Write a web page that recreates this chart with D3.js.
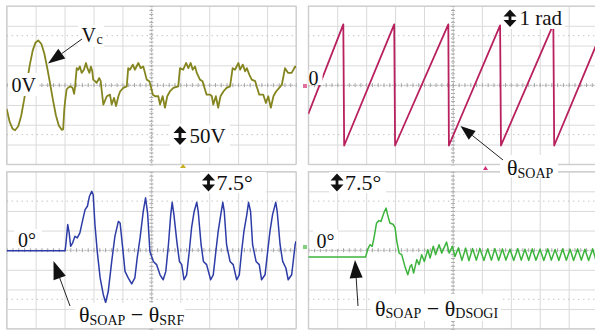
<!DOCTYPE html>
<html><head><meta charset="utf-8">
<script src="https://cdn.jsdelivr.net/npm/d3@7"></script>
<style>html,body{margin:0;padding:0;background:#fff;}svg{display:block;}</style>
</head><body>
<script>
// ---- data (time in ms, 10 ms per division) ----
const timeTicks = d3.range(0, 101, 10);
const vcTrace = [[0,-60],[1,-92],[2,-110],[2.9,-114],[4,-104],[5,-78],[6,-38],[7,8],[8,52],[9,88],[10,108],[10.9,113],[12,104],[13,80],[14,44],[15,4],[16,-38],[17,-76],[18,-102],[19,-113],[19.5,-112],[19.9,-62],[20.2,-40],[20.7,-11],[21.3,-6],[22.1,-3],[22.8,-7],[23.3,-22],[23.6,-6],[24.2,43],[24.7,39],[25.3,47],[25.9,31],[26.7,39],[27.4,56],[27.9,43],[28.6,31],[29.1,47],[29.6,35],[29.9,14],[31.1,6],[32.0,18],[32.5,10],[32.8,-11],[33.4,-49],[34.6,-28],[35.7,-24],[36.3,-49],[37.1,-32],[37.8,-53],[38.6,-28],[39.2,-16],[40.3,-7],[41.5,-3],[42.0,43],[42.6,39],[43.6,52],[44.3,39],[45.5,56],[46.3,43],[47.2,47],[47.8,31],[48.4,14],[49.3,10],[49.8,-3],[50.5,-24],[51.3,-28],[52.4,-28],[53.0,-49],[53.9,-28],[54.7,-57],[55.5,-28],[56.4,-16],[57.6,-7],[59.3,-3],[59.9,43],[61.0,39],[62.0,56],[62.8,43],[63.6,56],[64.3,39],[65.1,47],[65.7,31],[66.8,14],[67.7,10],[68.2,-3],[69.1,-24],[70.3,-24],[70.9,-28],[71.4,-49],[72.3,-28],[73.1,-57],[73.9,-28],[74.9,-16],[76.0,-7],[77.2,-3],[78.1,43],[78.9,39],[80.1,56],[80.7,39],[81.6,52],[82.4,35],[83.0,43],[83.9,26],[84.7,14],[85.9,10],[86.4,-3],[87.3,-24],[88.7,-24],[89.6,-45],[90.4,-28],[91.3,-57],[92.2,-28],[93.1,-16],[94.2,-7],[95.1,1],[96.2,43],[97.3,31],[98.5,31],[99.7,47],[100,44]];
const thetaSoap = [[0,-1.46],[12.1,3.07],[12.4,-3.05],[29.7,3.07],[30.0,-3.05],[48.4,3.07],[48.6,-3.05],[66.3,3.02],[66.6,-3.05],[84.7,3.07],[85.0,-3.05],[100,2.2]];
const errSrf = [[0,-0.2],[20.2,-0.2],[20.5,2.8],[21.1,9.8],[21.6,6.6],[22.1,1.5],[22.8,2.8],[23.6,5.3],[24.4,4.7],[25.3,6.6],[26.3,11.7],[27.1,15.5],[27.9,16.8],[28.6,20.6],[29.4,22.5],[29.9,21.2],[30.5,9.8],[31.3,-0.5],[32.3,-10.6],[33.4,-17.0],[34.2,-20.0],[35.1,-15.8],[36.3,-4.3],[37.4,5.3],[38.6,11.0],[39.2,10.4],[40.1,0.8],[40.9,-8.1],[42.0,-10.6],[43.2,-12.9],[44.3,-10.6],[45.1,-3.0],[46.1,4.7],[47.2,14.8],[48.0,20.0],[48.7,14.2],[49.5,-0.5],[50.7,-4.3],[51.8,-5.5],[53.0,-9.4],[54.1,-11.3],[55.0,-8.1],[55.9,2.1],[56.7,13.6],[57.2,18.3],[57.8,13.6],[58.8,3.4],[59.7,-4.3],[60.5,-5.5],[61.3,-11.3],[62.2,-9.4],[63.1,-0.5],[63.9,8.5],[64.8,14.8],[65.7,18.3],[66.2,14.8],[67.2,2.1],[68.0,-4.3],[69.1,-5.5],[70.5,-11.3],[71.4,-9.4],[72.3,-0.5],[73.1,7.2],[74.0,13.6],[74.7,18.3],[75.2,14.8],[76.0,2.1],[77.2,-4.3],[78.3,-5.5],[79.5,-11.3],[80.4,-9.4],[81.2,-0.5],[82.0,7.2],[83.0,13.6],[83.6,18.3],[84.3,14.8],[85.0,2.1],[86.2,-4.3],[87.3,-5.5],[88.1,-11.3],[89.3,-9.4],[90.2,-0.5],[91.0,7.2],[91.9,13.6],[93.0,18.3],[93.5,14.8],[94.5,2.1],[95.4,-4.3],[96.5,-6.8],[97.3,-11.3],[98.5,-9.4],[99.7,2.1],[100,3.4]];
const errDsogi = [[0,-2.6],[19.8,-2.6],[20.5,0.2],[21.3,2.1],[22.1,1.5],[22.8,5.3],[23.6,10.4],[24.4,11.3],[25.1,11.0],[25.7,12.9],[26.3,14.8],[26.9,16.1],[27.4,13.6],[28.2,10.4],[29.4,9.8],[30.0,8.5],[30.6,3.4],[31.4,-1.1],[32.3,-1.7],[33.4,-6.2],[34.4,-9.4],[35.2,-6.2],[35.7,-5.5],[36.4,-8.7],[37.5,-3.6],[38.3,-5.5],[39.2,-1.7],[40.1,-4.3],[41.3,0.2],[42.1,-3.0],[43.2,1.5],[44.0,-1.7],[45.2,2.1],[46.1,-1.1],[47.8,3.1],[48.7,-1.1],[49.8,1.5],[50.7,-2.4],[51.9,0.9],[53.1,-3.9],[54.4,0.8],[55.5,-4.0],[56.8,0.6],[58.1,-3.8],[59.3,0.7],[60.7,-3.9],[62.0,0.5],[63.3,-3.8],[64.5,0.6],[65.8,-3.9],[67.1,0.5],[68.3,-3.8],[69.7,0.4],[71.0,-3.9],[72.4,0.6],[73.6,-3.8],[74.9,0.4],[76.2,-3.9],[77.4,0.5],[78.7,-3.8],[80.1,0.4],[81.4,-3.9],[82.8,0.5],[84.0,-3.8],[85.3,0.3],[86.6,-3.9],[87.9,0.5],[89.2,-3.8],[90.5,0.4],[91.7,-3.9],[93.1,0.5],[94.4,-3.8],[95.6,0.4],[96.9,-3.9],[98.3,0.5],[99.4,-3.8]];
const vDiv = 50, radDiv = 1, degDiv = 7.5;

// ---- drawing ----
const W = 595, H = 330;
const svg = d3.select("body").append("svg").attr("width", W).attr("height", H);
svg.append("rect").attr("width", W).attr("height", H).attr("fill", "#fff");
const defs = svg.append("defs");
const serif = "Liberation Serif, DejaVu Serif, serif";

function panel(id, x0, y0, w, h, perDiv, data, color, sw) {
  const x = d3.scaleLinear().domain([0, 100]).range([x0, x0 + w]);
  const y = d3.scaleLinear().domain([-4 * perDiv, 4 * perDiv]).range([y0 + h, y0]);
  const g = svg.append("g");
  const yTicks = d3.range(-4, 5).map(k => k * perDiv);
  g.append("g").attr("transform", `translate(0,${y0 + h})`)
    .call(d3.axisBottom(x).tickValues(timeTicks).tickSizeInner(-h).tickSizeOuter(0).tickFormat(""))
    .call(a => a.select(".domain").remove())
    .call(a => a.selectAll("line").attr("stroke", "#dadada"));
  g.append("g").attr("transform", `translate(${x0},0)`)
    .call(d3.axisLeft(y).tickValues(yTicks).tickSizeInner(-w).tickSizeOuter(0).tickFormat(""))
    .call(a => a.select(".domain").remove())
    .call(a => a.selectAll("line").attr("stroke", "#dadada"));
  [-2.5, 2.5].forEach(k => g.append("line").attr("x1", x0).attr("x2", x0 + w)
    .attr("y1", y(k * perDiv)).attr("y2", y(k * perDiv))
    .attr("stroke", "#aaaaaa").attr("stroke-dasharray", "1,4"));
  const yc = y(0), xc = x(50);
  g.append("line").attr("x1", x0).attr("x2", x0 + w).attr("y1", yc).attr("y2", yc)
    .attr("stroke", "#a0a0a0").attr("stroke-dasharray", "1,2");
  g.append("line").attr("x1", xc).attr("x2", xc).attr("y1", y0).attr("y2", y0 + h)
    .attr("stroke", "#a0a0a0").attr("stroke-dasharray", "1,2");
  g.append("g").attr("transform", `translate(0,${yc + 2})`)
    .call(d3.axisBottom(x).tickValues(d3.range(0, 101, 2)).tickSizeInner(-4).tickSizeOuter(0).tickFormat(""))
    .call(a => a.select(".domain").remove())
    .call(a => a.selectAll("line").attr("stroke", "#a8a8a8"));
  g.append("g").attr("transform", `translate(${xc + 2},0)`)
    .call(d3.axisLeft(y).tickValues(d3.range(-4, 4.01, 0.2).map(k => k * perDiv)).tickSizeInner(4).tickSizeOuter(0).tickFormat(""))
    .call(a => a.select(".domain").remove())
    .call(a => a.selectAll("line").attr("stroke", "#a8a8a8"));
  g.append("rect").attr("x", x0).attr("y", y0).attr("width", w).attr("height", h)
    .attr("fill", "none").attr("stroke", "#c8c8c8");
  defs.append("clipPath").attr("id", id).append("rect")
    .attr("x", x0).attr("y", y0).attr("width", w).attr("height", h);
  g.append("path").datum(data).attr("clip-path", `url(#${id})`)
    .attr("fill", "none").attr("stroke", color).attr("stroke-width", sw)
    .attr("stroke-linejoin", "round")
    .attr("d", d3.line().x(d => x(d[0])).y(d => y(d[1])));
  return {x, y, g};
}

const pw = 289.3;
panel("c1", 6.7, 6, pw, 158.3, vDiv, vcTrace, "#85851f", 1.8);
panel("c2", 308.3, 6, pw, 158.3, radDiv, thetaSoap, "#b8205e", 1.8);
panel("c3", 6.7, 171.7, pw, 157, degDiv, errSrf, "#2d3ca6", 1.5);
panel("c4", 308.3, 171.7, pw, 157, degDiv, errDsogi, "#3cb43c", 1.5);

// ---- annotations ----
const ann = svg.append("g");
function box(x, y, w, h) { ann.append("rect").attr("x", x).attr("y", y).attr("width", w).attr("height", h).attr("fill", "#fff"); }
function txt(x, y, s, size) {
  return ann.append("text").attr("x", x).attr("y", y).attr("font-family", serif)
    .attr("font-size", size).attr("fill", "#111").text(s);
}
function dbl(cx, top, bottom) {
  const hw = 6.5, th = 7, s = 1.4;
  ann.append("path").attr("fill", "#111").attr("d",
    `M${cx},${top}L${cx + hw},${top + th}L${cx + s},${top + th}L${cx + s},${bottom - th}L${cx + hw},${bottom - th}L${cx},${bottom}L${cx - hw},${bottom - th}L${cx - s},${bottom - th}L${cx - s},${top + th}L${cx - hw},${top + th}Z`);
}
function arrow(x1, y1, x2, y2, hl, hw) {
  const a = Math.atan2(y2 - y1, x2 - x1);
  const bx = x2 - hl * Math.cos(a), by = y2 - hl * Math.sin(a);
  ann.append("line").attr("x1", x1).attr("y1", y1).attr("x2", bx).attr("y2", by)
    .attr("stroke", "#222").attr("stroke-width", 1);
  const px = -Math.sin(a) * hw / 2, py = Math.cos(a) * hw / 2;
  ann.append("path").attr("fill", "#111")
    .attr("d", `M${x2},${y2}L${bx + px},${by + py}L${bx - px},${by - py}Z`);
}
function theta(x, y, parts) {
  const t = ann.append("text").attr("x", x).attr("y", y).attr("font-family", serif).attr("fill", "#111");
  parts.forEach(([s, sub], i) => {
    const prevSub = i > 0 ? parts[i - 1][1] : false;
    t.append("tspan").attr("font-size", sub ? 14 : 22)
      .attr("dy", sub && !prevSub ? 2.5 : (!sub && prevSub ? -2.5 : 0)).text(s);
  });
}

// panel 1
box(8, 73, 31, 23); txt(11.5, 92, "0V", 20);
box(78, 25, 26, 22); txt(81.5, 42, "V", 20); txt(96.5, 44, "c", 14);
arrow(82, 39, 48, 63.5, 17, 12);
box(170, 124, 60, 23); dbl(180, 126, 145); txt(189.5, 143, "50V", 21);
// panel 2
box(308.5, 70, 14, 15); txt(308.5, 85, "0", 20);
box(501, 7, 64, 22); dbl(510, 9.5, 27); txt(519.5, 25, "1 rad", 21);
box(500, 155, 58, 22); theta(507, 175, [["θ", false], ["SOAP", true]]);
arrow(503, 160, 460.5, 126, 15, 11);
// panel 3
box(14, 229, 28, 19); txt(18, 246.5, "0°", 20);
box(200, 172, 66, 21); dbl(208.5, 173.5, 191.5); txt(216.5, 190, "7.5°", 22);
box(75, 303, 110, 25); theta(79, 322, [["θ", false], ["SOAP", true], [" − θ", false], ["SRF", true]]);
arrow(70, 306, 53.5, 261, 18, 13);
// panel 4
box(313, 230, 25, 19); txt(316.5, 247.5, "0°", 20);
box(329, 172, 57, 21); dbl(337, 173.5, 191.5); txt(345, 190, "7.5°", 22);
box(371, 294, 130, 27); theta(375, 315.5, [["θ", false], ["SOAP", true], [" − θ", false], ["DSOGI", true]]);
arrow(358, 306, 355, 260, 18, 13);

// channel markers
ann.append("path").attr("fill", "#c8b020").attr("d", "M180,168L183,164L186,168Z");
ann.append("path").attr("fill", "#d0307a").attr("d", "M483,170L485.5,166L488,170Z");
ann.append("rect").attr("x", 303).attr("y", 84).attr("width", 4).attr("height", 4).attr("fill", "#e070a0");
ann.append("rect").attr("x", 303).attr("y", 245).attr("width", 4).attr("height", 4).attr("fill", "#80d080");
</script>
</body></html>
